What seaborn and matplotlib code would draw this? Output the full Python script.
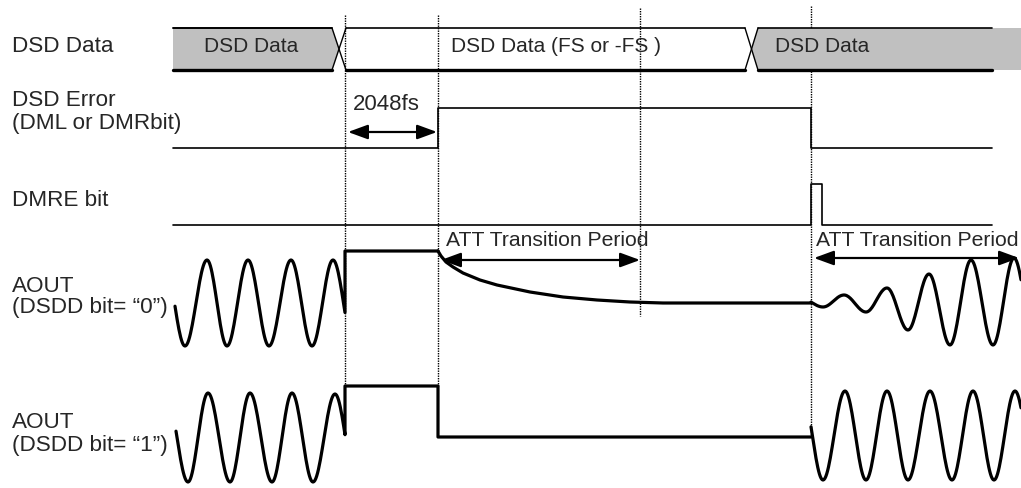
import numpy as np
import pandas as pd
import matplotlib
matplotlib.use("Agg")
import matplotlib.pyplot as plt
from matplotlib.patches import Polygon, FancyArrowPatch, ArrowStyle
import seaborn as sns

# time axis events (pixel-time units of the diagram)
t_start, t_stop, t_right = 173, 992, 1021
t_mute, t_err, t_att_end, t_recover, t_pulse_end = 345, 438, 640, 811, 822
cross1, cross2 = (332, 346), (745, 758)

# row levels
data_top, data_bot = 28, 70
err_hi, err_lo = 108, 148
dmre_hi, dmre_lo = 184, 225
aout0_hold = 251
aout1_hold, aout1_mute = 386, 437

# AOUT waveform extrema (x, y)
a0_left_x = [164, 185, 207, 227, 248, 269, 291, 312, 333, 354]
a0_left_y = [260, 346, 260, 346, 260, 346, 260, 346, 260, 346]
a0_decay_x = [438, 441, 446, 453, 463, 480, 497, 530, 563, 597, 630, 663, 700, 811]
a0_decay_y = [251, 256, 262, 267, 273, 280, 285, 292, 297, 300, 302, 303, 303, 303]
a0_right_x = [802, 823, 844, 866, 887, 908, 929, 950, 971, 993, 1014, 1035]
a0_right_y = [299, 307, 295, 312, 288, 330, 274, 345, 260, 345, 258, 345]
a1_left_x = [166, 188, 208, 230, 250, 272, 292, 313, 335, 356]
a1_left_y = [393, 482, 393, 482, 393, 482, 393, 482, 394, 482]
a1_right_x = [802, 823, 845, 866, 887, 908, 930, 952, 973, 994, 1015, 1036]
a1_right_y = [393, 480, 391, 480, 391, 480, 391, 480, 391, 480, 391, 480]

row_labels = [("DSD Data", 46), ("DSD Error", 101), ("(DML or DMRbit)", 123),
              ("DMRE bit", 201), ("AOUT", 286), ("(DSDD bit= \u201c0\u201d)", 307),
              ("AOUT", 423), ("(DSDD bit= \u201c1\u201d)", 445)]


def wave(ex, ey, x0, x1, n=24):
    xs, ys = [], []
    for i in range(len(ex) - 1):
        t = np.linspace(0, 1, n, endpoint=False)
        xs.append(ex[i] + t * (ex[i + 1] - ex[i]))
        ys.append(ey[i] + (ey[i + 1] - ey[i]) * (1 - np.cos(np.pi * t)) / 2)
    xs, ys = np.concatenate(xs), np.concatenate(ys)
    m = (xs > x0) & (xs < x1)
    return (np.r_[x0, xs[m], x1], np.r_[np.interp(x0, xs, ys), ys[m], np.interp(x1, xs, ys)])


sns.set_theme(style="white")
plt.rcParams["font.family"] = ["Liberation Sans", "DejaVu Sans"]

fig = plt.figure(figsize=(10.21, 4.88), dpi=100)
ax = fig.add_axes([0, 0, 1, 1])
ax.set_xlim(0, 1021)
ax.set_ylim(488, 0)
ax.axis("off")


def trace(x, y, lw):
    sns.lineplot(x=np.asarray(x, float), y=np.asarray(y, float), sort=False, estimator=None,
                 color="black", lw=lw, ax=ax, legend=False)


# DSD Data bus
mid = (data_top + data_bot) / 2
ax.add_patch(Polygon([(t_start, data_top), (cross1[0], data_top), ((cross1[0] + cross1[1]) / 2, mid),
                      (cross1[0], data_bot), (t_start, data_bot)], closed=True, fc="#c0c0c0", ec="none"))
ax.add_patch(Polygon([((cross2[0] + cross2[1]) / 2, mid), (cross2[1], data_top), (t_right, data_top),
                      (t_right, data_bot), (cross2[1], data_bot)], closed=True, fc="#c0c0c0", ec="none"))
trace([t_start, cross1[0]], [data_top, data_top], 1.4)
trace([cross1[1], cross2[0]], [data_top, data_top], 1.2)
trace([cross2[1], t_stop], [data_top, data_top], 1.2)
trace([t_start, cross1[0]], [data_bot, data_bot], 2.4)
trace([cross1[1], cross2[0]], [data_bot, data_bot], 2.4)
trace([cross2[1], t_stop], [data_bot, data_bot], 2.4)
for c in (cross1, cross2):
    trace([c[0], c[1]], [data_top, data_bot], 1.0)
    trace([c[0], c[1]], [data_bot, data_top], 1.0)

# DSD Error
trace([t_start, t_err, t_err, t_recover, t_recover, t_stop],
      [err_lo, err_lo, err_hi, err_hi, err_lo, err_lo], 1.2)
# DMRE bit
trace([t_start, t_recover, t_recover, t_pulse_end, t_pulse_end, t_stop],
      [dmre_lo, dmre_lo, dmre_hi, dmre_hi, dmre_lo, dmre_lo], 1.2)

# AOUT (DSDD bit = 0)
wx, wy = wave(a0_left_x, a0_left_y, 175, t_mute)
trace(np.r_[wx, t_mute, t_err], np.r_[wy, aout0_hold, aout0_hold], 2.3)
trace(a0_decay_x, a0_decay_y, 2.3)
wx, wy = wave(a0_right_x, a0_right_y, t_recover, t_right)
trace(wx, wy, 2.3)

# AOUT (DSDD bit = 1)
wx, wy = wave(a1_left_x, a1_left_y, 176, t_mute)
trace(np.r_[wx, t_mute, t_err, t_err, t_recover],
      np.r_[wy, aout1_hold, aout1_hold, aout1_mute, aout1_mute], 2.3)
wx, wy = wave(a1_right_x, a1_right_y, t_recover, t_right)
trace(wx, wy, 2.3)

# dotted markers
for x, y0, y1 in [(t_mute, 15, aout1_hold), (t_err, 15, aout1_hold), (t_att_end, 8, 316), (t_recover, 6, aout1_mute)]:
    ax.plot([x, x], [y0, y1], color="black", lw=1.0, ls=(0, (1, 0.8)), zorder=0)

# arrows
style = ArrowStyle("<|-|>", head_length=0.6, head_width=0.22)
for x0, x1, y in [(348, t_err - 1, 132), (441, t_att_end, 260), (814, 1019, 258)]:
    ax.add_patch(FancyArrowPatch((x0, y), (x1, y), arrowstyle=style, mutation_scale=20,
                                 lw=1.6, color="black", shrinkA=0, shrinkB=0))

# texts
for txt, y in row_labels:
    ax.text(12, y, txt, fontsize=16.2, va="center", ha="left")
ax.text(204, 46, "DSD Data", fontsize=15, va="center")
ax.text(451, 46, "DSD Data (FS or -FS )", fontsize=15, va="center")
ax.text(775, 46, "DSD Data", fontsize=15, va="center")
ax.text(353, 105, "2048fs", fontsize=16, va="center")
ax.text(446, 240, "ATT Transition Period", fontsize=15.2, va="center")
ax.text(816, 240, "ATT Transition Period", fontsize=15.2, va="center")

fig.savefig("out.png", dpi=100)
